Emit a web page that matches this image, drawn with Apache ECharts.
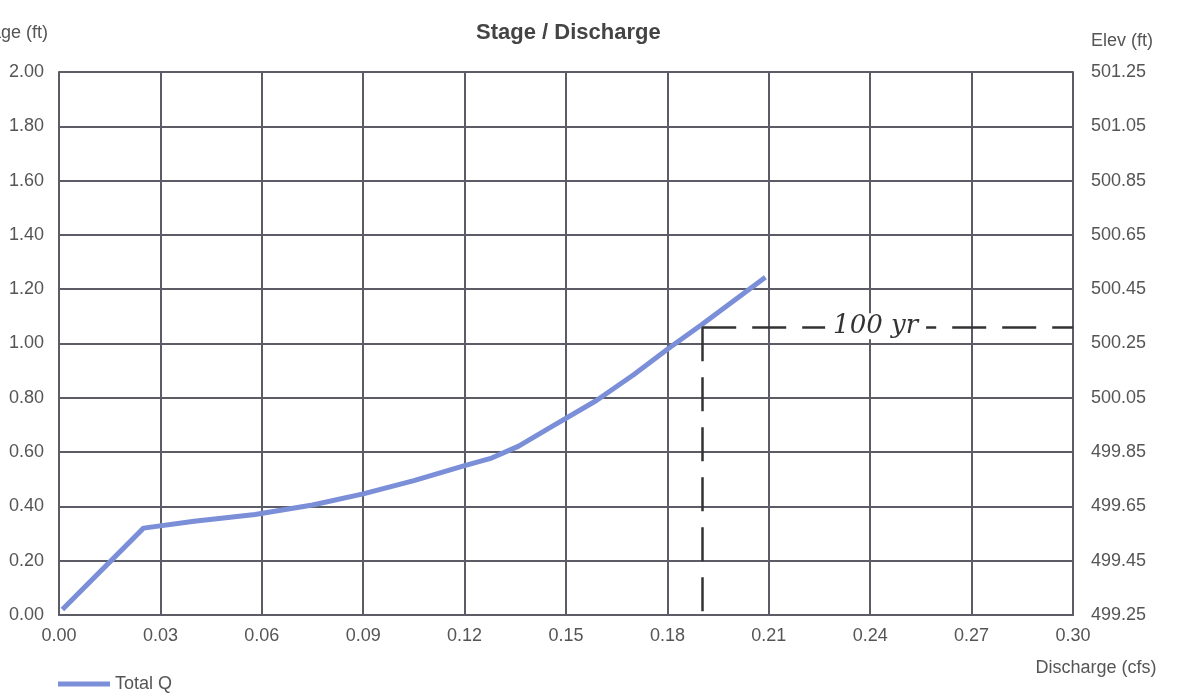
<!DOCTYPE html>
<html>
<head>
<meta charset="utf-8">
<style>
  html, body { margin: 0; padding: 0; background: #fff; }
  #chart { width: 1177px; height: 693px; }
</style>
<script src="https://cdn.jsdelivr.net/npm/echarts@6/dist/echarts.min.js"></script>
</head>
<body>
<div id="chart"></div>
<script>
// discharge (cfs)
const discharge = [0.001, 0.025, 0.040, 0.058, 0.075, 0.090, 0.105, 0.120, 0.128, 0.136, 0.145, 0.159, 0.170, 0.181, 0.190, 0.209];
// stage (ft) at each point
const stage = [0.02, 0.32, 0.345, 0.37, 0.405, 0.446, 0.495, 0.55, 0.578, 0.622, 0.688, 0.79, 0.885, 0.988, 1.068, 1.244];
// 100 yr mark
const mark100 = { q: 0.1903, stage: 1.06, label: '100 yr' };
const elevBase = 499.25;

const chart = echarts.init(document.getElementById('chart'));
const font = 'Liberation Sans, Arial, sans-serif';
const gridColor = '#5c5c66';

chart.setOption({
  animation: false,
  textStyle: { fontFamily: font },
  title: {
    text: 'Stage / Discharge',
    left: 471,
    top: 17,
    textStyle: { fontSize: 22, fontWeight: 'bold', color: '#444', fontFamily: font }
  },
  legend: {
    left: 53,
    top: 670,
    icon: 'rect',
    itemWidth: 52,
    itemHeight: 5,
    itemGap: 10,
    textStyle: { fontSize: 18, color: '#555' },
    data: ['Total Q']
  },
  grid: { left: 59, right: 104, top: 72, bottom: 78, outerBoundsMode: 'none' },
  xAxis: {
    type: 'value',
    min: 0,
    max: 0.3,
    interval: 0.03,
    name: 'Discharge (cfs)',
    nameLocation: 'end',
    nameGap: 23,
    nameTextStyle: { fontSize: 18, color: '#555', align: 'center', verticalAlign: 'top', padding: [44, 0, 0, 0] },
    axisLine: { show: true, lineStyle: { color: gridColor, width: 2 } },
    axisTick: { show: false },
    axisLabel: { fontSize: 18, color: '#555', margin: 12, formatter: v => v.toFixed(2) },
    splitLine: { show: true, lineStyle: { color: gridColor, width: 2 } }
  },
  yAxis: [
    {
      type: 'value',
      min: 0,
      max: 2,
      interval: 0.2,
      name: 'Stage (ft)',
      nameLocation: 'end',
      nameGap: 30,
      nameTextStyle: { fontSize: 18, color: '#555', align: 'right', padding: [0, 11, 0, 0] },
      axisLine: { show: true, lineStyle: { color: gridColor, width: 2 } },
      axisTick: { show: false },
      axisLabel: { fontSize: 18, color: '#555', margin: 15, formatter: v => v.toFixed(2) },
      splitLine: { show: true, lineStyle: { color: gridColor, width: 2 } }
    },
    {
      type: 'value',
      position: 'right',
      min: 0,
      max: 2,
      interval: 0.2,
      name: 'Elev (ft)',
      nameLocation: 'end',
      nameGap: 22,
      nameTextStyle: { fontSize: 18, color: '#555', align: 'left', padding: [0, 0, 0, 18] },
      axisLine: { show: true, lineStyle: { color: gridColor, width: 2 } },
      axisTick: { show: false },
      axisLabel: { fontSize: 18, color: '#555', margin: 18, formatter: v => (v + elevBase).toFixed(2) },
      splitLine: { show: false }
    }
  ],
  series: [
    {
      name: 'Total Q',
      type: 'line',
      symbol: 'none',
      smooth: false,
      data: discharge.map((q, i) => [q, stage[i]]),
      lineStyle: { color: '#7a8fd8', width: 5 },
      itemStyle: { color: '#7a8fd8' },
      markLine: {
        symbol: 'none',
        silent: true,
        lineStyle: { color: '#333', width: 2.5, type: [34, 16] },
        data: [
          [
            { coord: [mark100.q, mark100.stage], label: { show: true, position: 'middle', formatter: mark100.label, fontSize: 26, fontStyle: 'italic', fontFamily: 'DejaVu Serif, serif', color: '#333', backgroundColor: '#fff', padding: [0, 8], distance: -12, offset: [-12, 0] } },
            { coord: [0.3, mark100.stage] }
          ],
          [
            { coord: [mark100.q, mark100.stage], label: { show: false } },
            { coord: [mark100.q, 0] }
          ]
        ]
      }
    }
  ]
});
</script>
</body>
</html>
